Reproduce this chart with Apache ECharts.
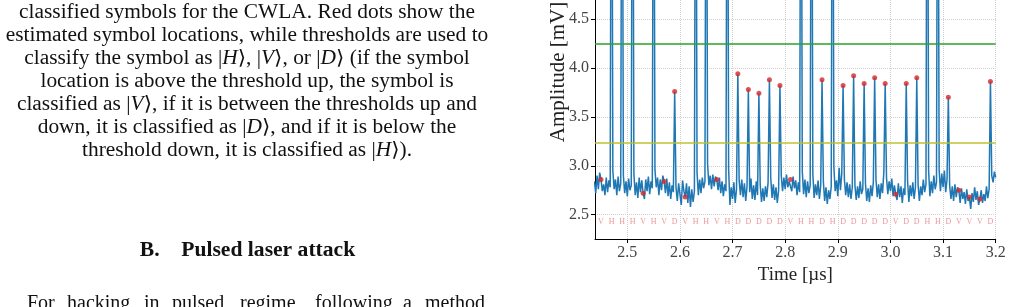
<!DOCTYPE html>
<html>
<head>
<meta charset="utf-8">
<script src="https://cdn.jsdelivr.net/npm/echarts@6/dist/echarts.min.js"></script>
<style>
  html, body { margin: 0; padding: 0; background: #fff; }
  #main { width: 1011px; height: 307px; }
</style>
</head>
<body>
<div id="main"></div>
<script>
// scope trace: first sample time and sample step (µs)
const traceStart = 2.4375;
const traceStep = 0.0025;
// amplitude samples (mV), one row per symbol slot, slot centre is the 5th value
const amplitude = [
  2.84,
  2.72, 2.90, 2.76, 2.93, 2.86, 2.74, 2.81, 2.70,
  2.88, 2.73, 2.85, 2.78, 8.20, 2.95, 2.76, 2.86,
  2.70, 2.89, 2.74, 2.82, 8.00, 2.90, 2.72, 2.84,
  2.69, 2.87, 2.75, 2.80, 8.30, 2.92, 2.70, 2.83,
  2.67, 2.88, 2.73, 2.85, 2.72, 2.66, 2.86, 2.74,
  2.89, 2.71, 2.84, 2.77, 8.10, 2.96, 2.78, 2.88,
  2.70, 2.86, 2.75, 2.90, 2.84, 2.72, 2.87, 2.69,
  2.83, 2.66, 2.80, 2.73, 3.76, 2.78, 2.64, 2.82,
  2.71, 2.60, 2.85, 2.74, 2.68, 2.82, 2.62, 2.79,
  2.58, 2.76, 2.63, 2.74, 8.00, 2.93, 2.70, 2.86,
  2.72, 2.88, 2.77, 2.84, 7.90, 3.02, 2.80, 2.90,
  2.76, 2.91, 2.79, 2.89, 2.86, 2.75, 2.88, 2.72,
  2.84, 2.69, 2.81, 2.74, 8.20, 2.97, 2.60, 2.78,
  2.66, 2.83, 2.62, 2.76, 3.94, 2.85, 2.70, 2.86,
  2.68, 2.82, 2.64, 2.79, 3.78, 2.73, 2.87, 2.66,
  2.80, 2.65, 2.84, 2.70, 3.74, 2.81, 2.63, 2.77,
  2.64, 2.79, 2.68, 2.83, 3.88, 2.88, 2.67, 2.81,
  2.65, 2.78, 2.62, 2.75, 3.82, 2.90, 2.74, 2.88,
  2.76, 2.91, 2.78, 2.84, 2.86, 2.74, 2.89, 2.77,
  2.85, 2.70, 2.83, 2.73, 8.10, 2.94, 2.71, 2.86,
  2.68, 2.84, 2.72, 2.80, 8.00, 2.92, 2.67, 2.81,
  2.70, 2.85, 2.66, 2.80, 3.88, 2.84, 2.64, 2.78,
  2.61, 2.75, 2.66, 2.79, 8.20, 2.99, 2.74, 2.85,
  2.69, 2.98, 2.75, 2.92, 3.82, 2.86, 2.70, 2.83,
  2.68, 2.81, 2.66, 2.78, 3.92, 2.80, 2.65, 2.79,
  2.67, 2.84, 2.71, 2.76, 3.84, 2.82, 2.64, 2.77,
  2.63, 2.80, 2.69, 2.83, 3.90, 2.86, 2.68, 2.81,
  2.66, 2.82, 2.72, 2.94, 3.84, 2.88, 2.71, 2.84,
  2.74, 2.87, 2.69, 2.80, 2.71, 2.65, 2.82, 2.68,
  2.79, 2.62, 2.77, 2.70, 3.84, 2.85, 2.63, 2.80,
  2.69, 2.83, 2.66, 2.78, 3.90, 2.81, 2.64, 2.79,
  2.70, 2.86, 2.73, 2.81, 8.10, 2.95, 2.69, 2.84,
  2.72, 2.90, 2.76, 2.83, 8.00, 2.96, 2.74, 2.92,
  2.78, 2.95, 2.73, 2.86, 3.70, 2.80, 2.66, 2.79,
  2.64, 2.81, 2.68, 2.78, 2.75, 2.62, 2.77, 2.66,
  2.73, 2.61, 2.76, 2.64, 2.68, 2.56, 2.72, 2.63,
  2.78, 2.65, 2.74, 2.60, 2.66, 2.75, 2.62, 2.71,
  2.64, 2.79, 2.67, 2.76, 3.86, 2.90, 2.83, 2.94,
  2.88
];

// classified symbols, one per slot
const symbolStart = 2.45;
const symbolStep = 0.02;
const symbols = ['V', 'H', 'H', 'H', 'V', 'H', 'V', 'D', 'V', 'H', 'H', 'V', 'H',
  'D', 'D', 'D', 'D', 'D', 'V', 'H', 'H', 'D', 'H', 'D', 'D', 'D', 'D', 'D',
  'V', 'D', 'D', 'H', 'H', 'D', 'V', 'V', 'V', 'D'];
const symbolLabelLevel = 2.43;

const thresholdUp = 4.25;
const thresholdDown = 3.24;

const xTicks = [2.5, 2.6, 2.7, 2.8, 2.9, 3.0, 3.1, 3.2];
const yTicks = [2.5, 3.0, 3.5, 4.0, 4.5];

const serif = "'Liberation Serif', 'DejaVu Serif', serif";

const traceData = amplitude.map((v, i) => [traceStart + i * traceStep, v]);
const slotTimes = symbols.map((s, k) => symbolStart + k * symbolStep);
// red dots: trace value at each estimated symbol location
const dotData = slotTimes.map(t => [t, amplitude[Math.round((t - traceStart) / traceStep)]]);
const labelData = slotTimes.map((t, k) => [t, symbolLabelLevel, symbols[k]]);

// left column text of the page
const captionLines = [
  'classified symbols for the CWLA. Red dots show the',
  'estimated symbol locations, while thresholds are used to',
  'classify the symbol as |{i|H}⟩, |{i|V}⟩, or |{i|D}⟩ (if the symbol',
  'location is above the threshold up, the symbol is',
  'classified as |{i|V}⟩, if it is between the thresholds up and',
  'down, it is classified as |{i|D}⟩, and if it is below the',
  'threshold down, it is classified as |{i|H}⟩).'
];
const sectionTitle = 'B.    Pulsed laser attack';
const bodyWords = ['For', 'hacking', 'in', 'pulsed', 'regime,', 'following', 'a', 'method'];
const bodyWordX = [27, 67, 144, 172, 240, 315, 403, 425];

const graphics = [];
captionLines.forEach((line, i) => {
  graphics.push({
    type: 'text', x: 247, y: 13 + i * 22.9, scaleX: 1.07, silent: true,
    style: {
      text: line, fontFamily: serif, fontSize: 20, fill: '#111',
      align: 'center', verticalAlign: 'middle',
      rich: { i: { fontFamily: serif, fontSize: 20, fontStyle: 'italic', fill: '#111' } }
    }
  });
});
graphics.push({
  type: 'text', x: 247.5, y: 251, scaleX: 1.08, silent: true,
  style: { text: sectionTitle, fontFamily: serif, fontSize: 20, fontWeight: 'bold',
    fill: '#111', align: 'center', verticalAlign: 'middle' }
});
bodyWords.forEach((w, i) => {
  graphics.push({
    type: 'text', x: bodyWordX[i], y: 304, silent: true,
    style: { text: w, fontFamily: serif, fontSize: 20, fill: '#111',
      align: 'left', verticalAlign: 'middle' }
  });
});
// y axis title, placed by hand because the plot is cut at the top
graphics.push({
  type: 'text', x: 558, y: 72, rotation: Math.PI / 2, silent: true,
  style: { text: 'Amplitude [mV]', fontFamily: serif, fontSize: 21, fill: '#222',
    align: 'center', verticalAlign: 'middle' }
});

const chart = echarts.init(document.getElementById('main'));
chart.setOption({
  animation: false,
  backgroundColor: '#fff',
  grid: { left: 595, right: 15.3, top: 0, bottom: 68 },
  xAxis: {
    type: 'value',
    min: 2.4386,
    max: 3.2,
    splitNumber: 8,
    name: 'Time [µs]',
    nameLocation: 'middle',
    nameGap: 13,
    nameTextStyle: { fontFamily: serif, fontSize: 19, color: '#222', verticalAlign: 'top' },
    axisLine: { show: true, lineStyle: { color: '#000', width: 1 } },
    axisTick: { show: true, length: 4, customValues: xTicks, lineStyle: { color: '#000' } },
    axisLabel: {
      customValues: xTicks, margin: 6,
      formatter: v => v.toFixed(1),
      fontFamily: serif, fontSize: 16, color: '#444'
    },
    splitLine: { show: true, lineStyle: { color: '#cfcfcf', type: 'dotted', width: 1 } }
  },
  yAxis: {
    type: 'value',
    min: 2.2515,
    max: 4.694,
    splitNumber: 5,
    axisLine: { show: true, lineStyle: { color: '#000', width: 1 } },
    axisTick: { show: true, length: 4, customValues: yTicks, lineStyle: { color: '#000' } },
    axisLabel: {
      customValues: yTicks, margin: 6,
      formatter: v => v.toFixed(1),
      fontFamily: serif, fontSize: 16, color: '#444'
    },
    splitLine: { show: true, lineStyle: { color: '#cfcfcf', type: 'dotted', width: 1 } }
  },
  series: [
    {
      name: 'trace',
      type: 'line',
      data: traceData,
      showSymbol: false,
      symbol: 'none',
      sampling: null,
      clip: true,
      lineStyle: { color: '#1f77b4', width: 1.5 },
      z: 2
    },
    {
      name: 'thresholds',
      type: 'line',
      data: [],
      z: 3,
      markLine: {
        silent: true,
        symbol: ['none', 'none'],
        label: { show: false },
        animation: false,
        data: [
          { yAxis: thresholdUp, lineStyle: { color: '#2ca02c', width: 1.5, type: 'solid' } },
          { yAxis: thresholdDown, lineStyle: { color: 'rgba(188,189,34,0.7)', width: 2, type: 'solid' } }
        ]
      }
    },
    {
      name: 'symbol locations',
      type: 'scatter',
      data: dotData,
      symbolSize: 5,
      clip: true,
      itemStyle: { color: '#d62728' },
      z: 4
    },
    {
      name: 'symbols',
      type: 'scatter',
      data: labelData,
      symbolSize: 1,
      itemStyle: { color: 'rgba(0,0,0,0)' },
      label: {
        show: true, position: 'inside',
        formatter: p => p.data[2],
        fontFamily: serif, fontSize: 8, color: '#e67d7e'
      },
      z: 5
    }
  ],
  graphic: graphics
});
</script>
</body>
</html>
